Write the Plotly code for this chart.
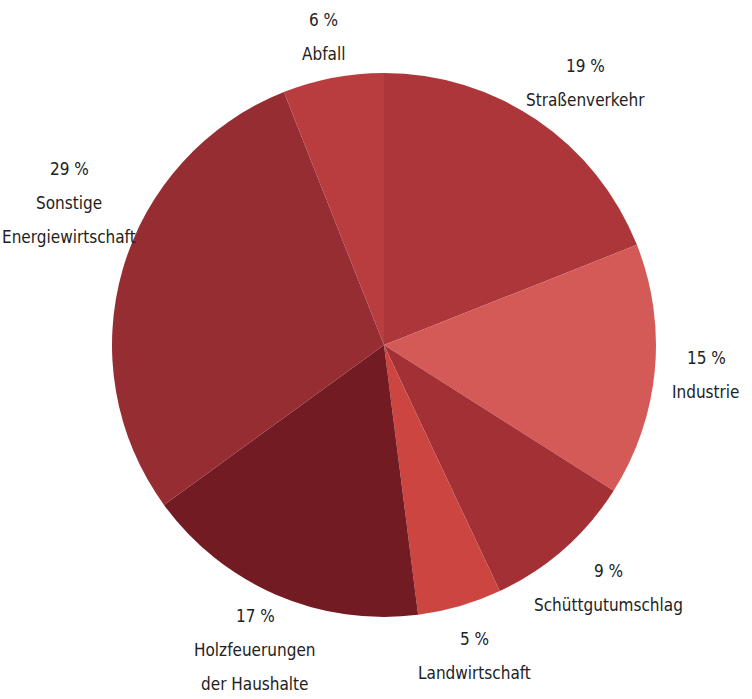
import math
import plotly.graph_objects as go

categories = ["Straßenverkehr", "Industrie", "Schüttgutumschlag", "Landwirtschaft",
              "Holzfeuerungen der Haushalte", "Sonstige Energiewirtschaft", "Abfall"]
label_lines = [["Straßenverkehr"], ["Industrie"], ["Schüttgutumschlag"], ["Landwirtschaft"],
               ["Holzfeuerungen", "der Haushalte"], ["Sonstige", "Energiewirtschaft"], ["Abfall"]]
values = [19, 15, 9, 5, 17, 29, 6]
colors = ["#ad363a", "#d45a58", "#a23034", "#cc4541", "#721b22", "#952d33", "#b93c3e"]

W, H = 752, 699
cx, cy, R = 384, 345, 272
FONT = "DejaVu Sans Condensed, Liberation Sans Narrow, sans-serif"

# label placement tweaks (pixels) for readability, like the reference
label_radius = 1.19
nudge = {"Straßenverkehr": (20, 6), "Sonstige Energiewirtschaft": (-4, -52),
         "Abfall": (0, 10), "Holzfeuerungen der Haushalte": (0, 8),
         "Schüttgutumschlag": (10, 0)}

fig = go.Figure(go.Pie(
    labels=categories, values=values, sort=False, direction="clockwise", rotation=0,
    marker=dict(colors=colors, line=dict(width=0)), textinfo="none", hoverinfo="label+percent",
    domain=dict(x=[(cx - R) / W, (cx + R) / W], y=[1 - (cy + R) / H, 1 - (cy - R) / H]),
    showlegend=False,
))

total = sum(values)
cum = 0
annotations = []
line_gap = 34
for cat, v, lines in zip(categories, values, label_lines):
    mid = (cum + v / 2) / total * 2 * math.pi
    cum += v
    r = R * label_radius
    ddx, ddy = nudge.get(cat, (0, 0))
    lx = cx + r * math.sin(mid) + ddx
    ly = cy - r * math.cos(mid) + ddy
    all_lines = [f"{v} %"] + lines
    n = len(all_lines)
    for i, t in enumerate(all_lines):
        py = ly + (i - (n - 1) / 2) * line_gap
        annotations.append(dict(x=lx / W, y=1 - py / H, xref="paper", yref="paper",
                                text=t, showarrow=False, xanchor="center", yanchor="middle",
                                font=dict(family=FONT, size=17, color="#222222")))

fig.update_layout(width=W, height=H, margin=dict(l=0, r=0, t=0, b=0),
                  paper_bgcolor="white", plot_bgcolor="white", annotations=annotations)
fig.write_html("out.html")
